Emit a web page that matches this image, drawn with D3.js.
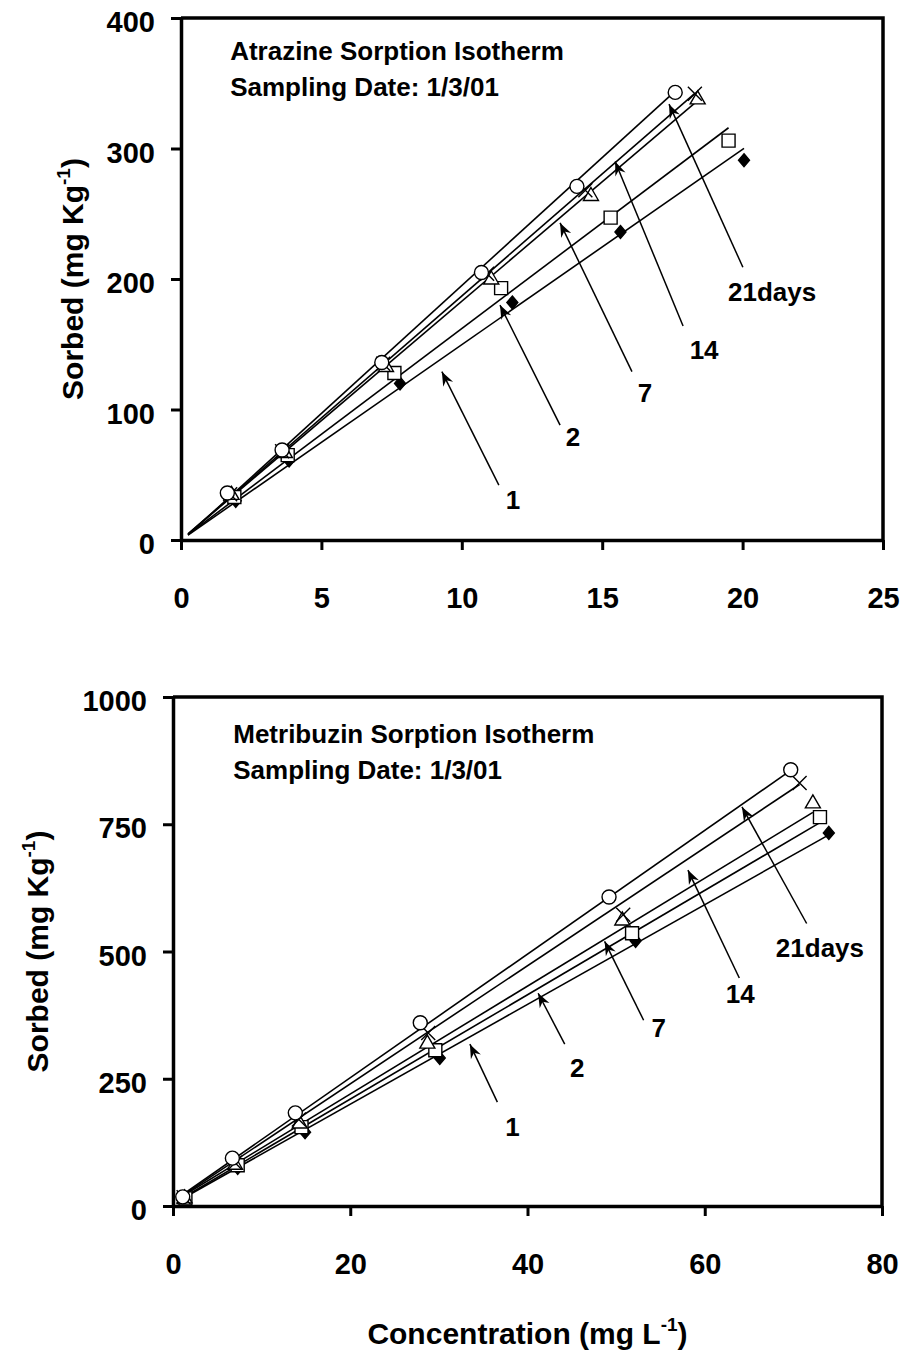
<!DOCTYPE html>
<html>
<head>
<meta charset="utf-8">
<script src="https://cdn.jsdelivr.net/npm/d3@7"></script>
<style>
body { margin: 0; background: #fff; }
text { font-family: "Liberation Sans", Arial, sans-serif; font-weight: bold; fill: #000; }
</style>
</head>
<body>
<div class="chart"></div>
<script>
// Series order: 1, 2, 7, 14, 21 days after application
const days = ["1", "2", "7", "14", "21days"];
const markerTypes = ["diamond", "square", "triangle", "x", "circle"];

// Atrazine points: [concentration, sorbed]
const atrazine1 = [[1.95, 30], [3.85, 61], [7.8, 120], [11.8, 182], [15.65, 236], [20.05, 291]];
const atrazine2 = [[1.9, 33], [3.8, 65], [7.6, 128], [11.4, 193], [15.3, 247], [19.5, 306]];
const atrazine7 = [[1.8, 35], [3.7, 67], [7.3, 133], [11.05, 200], [14.6, 264], [18.4, 338]];
const atrazine14 = [[1.75, 35], [3.6, 68], [7.2, 135], [10.9, 204], [14.4, 268], [18.3, 342]];
const atrazine21 = [[1.65, 36], [3.6, 69], [7.15, 136], [10.7, 205], [14.1, 271], [17.6, 343]];
// fitted isotherm lines (slope, intercept)
const atrazineSlope = [14.97, 16.2, 18.3, 18.7, 19.6];
const atrazineIntercept = [0, 0, 0, 0, -1];
// arrows: [tip x, tip y, tail x, tail y, label x, label y]
const atrazineArrows = [
    [9.29, 129, 11.32, 42, 11.82, 31],
    [11.36, 180, 13.5, 88, 13.96, 79],
    [13.5, 243, 16.06, 129, 16.52, 113],
    [15.46, 290, 17.88, 164, 18.63, 146],
    [17.38, 334, 20.01, 209, 21.05, 190]
];
const atrazineTitle = ["Atrazine Sorption Isotherm", "Sampling Date: 1/3/01"];
const atrazineXTicks = [0, 5, 10, 15, 20, 25];
const atrazineYTicks = [0, 100, 200, 300, 400];

// Metribuzin points
const metribuzin1 = [[1.4, 12], [7.3, 75], [14.9, 145], [30.1, 291], [52.2, 521], [74.0, 733]];
const metribuzin2 = [[1.4, 15], [7.3, 80], [14.5, 155], [29.6, 306], [51.8, 536], [73.0, 764]];
const metribuzin7 = [[1.3, 16], [7.0, 82], [14.3, 163], [28.7, 320], [50.7, 562], [72.2, 792]];
const metribuzin14 = [[1.2, 17], [7.0, 85], [14.2, 170], [28.8, 340], [50.8, 572], [70.7, 831]];
const metribuzin21 = [[1.1, 18], [6.7, 94], [13.8, 183], [27.9, 360], [49.2, 607], [69.7, 857]];
const metribuzinSlope = [9.8, 10.25, 10.6, 11.6, 12.15];
const metribuzinIntercept = [4, 5, 8, 8, 9];
const metribuzinArrows = [
    [33.5, 318, 36.6, 204, 38.3, 155],
    [41.2, 418, 44.2, 318, 45.6, 272],
    [48.7, 520, 53.1, 365, 54.8, 350],
    [58.1, 660, 63.9, 448, 64.0, 418],
    [64.2, 784, 71.5, 555, 73.0, 508]
];
const metribuzinTitle = ["Metribuzin Sorption Isotherm", "Sampling Date: 1/3/01"];
const metribuzinXTicks = [0, 20, 40, 60, 80];
const metribuzinYTicks = [0, 250, 500, 750, 1000];

let width = 904;
let height = 1352;

let svg = d3.select(".chart").append("svg")
    .attr("width", width)
    .attr("height", height)
    .attr("viewBox", `0 0 ${width} ${height}`);

// arrow head used by all the day annotations
svg.append("defs").append("marker")
    .attr("id", "arrowhead")
    .attr("viewBox", "-15 -7 16 14")
    .attr("refX", 0)
    .attr("refY", 0)
    .attr("markerWidth", 16)
    .attr("markerHeight", 14)
    .attr("markerUnits", "userSpaceOnUse")
    .attr("orient", "auto")
    .append("path")
    .attr("d", "M0,0 L-14,-5.5 L-9.5,0 L-14,5.5 Z")
    .attr("fill", "#000");

// marker shapes drawn around (0,0)
function markerPath(type) {
    if (type == "diamond") return "M0,-6.5 L5.5,0 L0,6.5 L-5.5,0 Z";
    if (type == "square") return "M-6.5,-6.5 H6.5 V6.5 H-6.5 Z";
    if (type == "triangle") return "M0,-8 L7.5,5 L-7.5,5 Z";
    if (type == "x") return "M-7,-7 L7,7 M-7,7 L7,-7";
    return d3.symbol(d3.symbolCircle, Math.PI * 49)();
}

function drawPanel(p) {
    const x = d3.scaleLinear().domain(p.xDomain).range([p.left, p.right]);
    const y = d3.scaleLinear().domain(p.yDomain).range([p.bottom, p.top]);
    const g = svg.append("g");

    // frame on the top and right
    g.append("path")
        .attr("d", `M${p.left},${p.top} H${p.right} V${p.bottom}`)
        .attr("fill", "none")
        .attr("stroke", "#000")
        .attr("stroke-width", 3.5);

    // fitted lines
    p.series.forEach((s, i) => {
        const x0 = p.lineStart;
        const x1 = d3.max(s, d => d[0]);
        g.append("line")
            .attr("x1", x(x0))
            .attr("y1", y(p.slope[i] * x0 + p.intercept[i]))
            .attr("x2", x(x1))
            .attr("y2", y(p.slope[i] * x1 + p.intercept[i]))
            .attr("stroke", "#000")
            .attr("stroke-width", 1.6);
    });

    // points, drawn so the 21 day circles end up on top
    p.series.forEach((s, i) => {
        const type = markerTypes[i];
        g.selectAll(".pt" + i)
            .data(s)
            .enter()
            .append("path")
            .attr("class", "pt" + i)
            .attr("transform", d => `translate(${x(d[0])},${y(d[1])})`)
            .attr("d", markerPath(type))
            .attr("fill", type == "diamond" ? "#000" : (type == "x" ? "none" : "#fff"))
            .attr("stroke", "#000")
            .attr("stroke-width", 1.4);
    });

    // arrows with day labels
    p.arrows.forEach((a, i) => {
        g.append("line")
            .attr("x1", x(a[2]))
            .attr("y1", y(a[3]))
            .attr("x2", x(a[0]))
            .attr("y2", y(a[1]))
            .attr("stroke", "#000")
            .attr("stroke-width", 1.5)
            .attr("marker-end", "url(#arrowhead)");
        g.append("text")
            .attr("x", x(a[4]))
            .attr("y", y(a[5]))
            .attr("dy", "0.36em")
            .attr("text-anchor", "middle")
            .style("font-size", "26px")
            .text(days[i]);
    });

    // title block
    p.title.forEach((t, i) => {
        g.append("text")
            .attr("x", x(p.titlePos[0]))
            .attr("y", y(p.titlePos[1]) + i * 36)
            .style("font-size", "26px")
            .text(t);
    });

    // axes
    const xAxis = g.append("g")
        .attr("transform", `translate(0, ${p.bottom})`)
        .call(d3.axisBottom(x).tickValues(p.xTicks).tickFormat(d3.format("d"))
            .tickSize(10).tickSizeOuter(0).tickPadding(37));
    const yAxis = g.append("g")
        .attr("transform", `translate(${p.left}, 0)`)
        .call(d3.axisLeft(y).tickValues(p.yTicks).tickFormat(d3.format("d"))
            .tickSize(10).tickSizeOuter(0).tickPadding(16));

    [xAxis, yAxis].forEach(ax => {
        ax.select(".domain").attr("stroke-width", 3.5);
        ax.selectAll(".tick line").attr("stroke-width", 3);
        ax.selectAll(".tick text")
            .style("font-family", "'Liberation Sans', Arial, sans-serif")
            .style("font-weight", "bold")
            .style("font-size", "29px")
            .attr("fill", "#000");
    });
    yAxis.selectAll(".tick text").attr("dy", "0.47em");

    // y axis title with superscript
    const yt = g.append("text")
        .attr("transform", `translate(${p.yTitleX}, ${(p.top + p.bottom) / 2}) rotate(-90)`)
        .attr("text-anchor", "middle")
        .style("font-size", "30px");
    yt.append("tspan").text("Sorbed (mg Kg");
    yt.append("tspan").attr("dy", -13).style("font-size", "19px").text("-1");
    yt.append("tspan").attr("dy", 13).text(")");
}

drawPanel({
    series: [atrazine1, atrazine2, atrazine7, atrazine14, atrazine21],
    slope: atrazineSlope,
    intercept: atrazineIntercept,
    arrows: atrazineArrows,
    title: atrazineTitle,
    titlePos: [1.75, 368],
    xDomain: [0, 25],
    yDomain: [0, 400],
    xTicks: atrazineXTicks,
    yTicks: atrazineYTicks,
    lineStart: 0.25,
    left: 181, right: 883, top: 18, bottom: 540,
    yTitleX: 83
});

drawPanel({
    series: [metribuzin1, metribuzin2, metribuzin7, metribuzin14, metribuzin21],
    slope: metribuzinSlope,
    intercept: metribuzinIntercept,
    arrows: metribuzinArrows,
    title: metribuzinTitle,
    titlePos: [6.8, 910],
    xDomain: [0, 80],
    yDomain: [0, 1000],
    xTicks: metribuzinXTicks,
    yTicks: metribuzinYTicks,
    lineStart: 1.2,
    left: 173, right: 882, top: 697, bottom: 1206,
    yTitleX: 48
});

// shared x axis title
let xt = svg.append("text")
    .attr("x", (173 + 882) / 2)
    .attr("y", 1344)
    .attr("text-anchor", "middle")
    .style("font-size", "30px");
xt.append("tspan").text("Concentration (mg L");
xt.append("tspan").attr("dy", -13).style("font-size", "19px").text("-1");
xt.append("tspan").attr("dy", 13).text(")");
</script>
</body>
</html>
